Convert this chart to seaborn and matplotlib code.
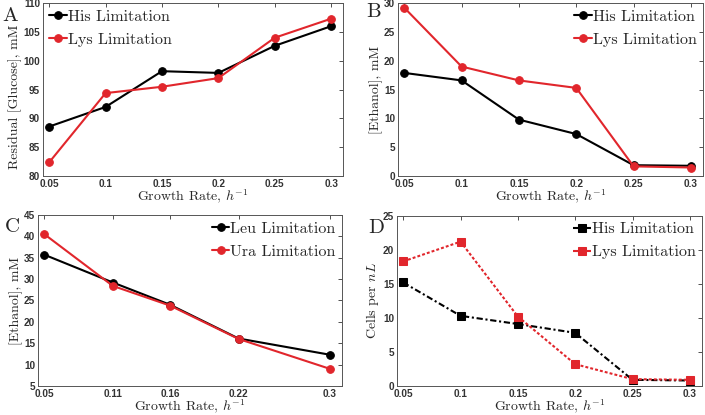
import matplotlib
matplotlib.use('Agg')
import numpy as np
import pandas as pd
import matplotlib.pyplot as plt
import seaborn as sns

# данные
rate = [0.05, 0.1, 0.15, 0.2, 0.25, 0.3]
rate_c = [0.05, 0.11, 0.16, 0.22, 0.3]

glucose_his = [88.6, 92.0, 98.2, 97.9, 102.6, 106.0]
glucose_lys = [82.4, 94.4, 95.5, 97.0, 104.0, 107.3]

ethanol_his = [17.9, 16.6, 9.8, 7.3, 1.9, 1.8]
ethanol_lys = [29.2, 19.0, 16.6, 15.3, 1.7, 1.5]

ethanol_leu = [35.7, 29.2, 24.0, 16.1, 12.3]
ethanol_ura = [40.5, 28.4, 23.8, 16.0, 9.0]

cells_his = [15.2, 10.3, 9.1, 7.8, 0.9, 0.8]
cells_lys = [18.3, 21.2, 10.2, 3.2, 1.0, 0.9]

sns.set_style('white')
plt.rcParams['mathtext.fontset'] = 'cm'
plt.rcParams['axes.unicode_minus'] = False

RED = '#e1262c'
BLACK = '#000000'
LBL = dict(family='cmr10', size=10)
TICK_FONT = dict(family='Liberation Sans', weight='bold', size=7.2)

fig = plt.figure(figsize=(7.05, 4.15), dpi=100)
axA = fig.add_axes([0.061, 0.5755, 0.4255, 0.417])
axB = fig.add_axes([0.5645, 0.5755, 0.4326, 0.417])
axC = fig.add_axes([0.054, 0.070, 0.431, 0.412])
axD = fig.add_axes([0.563, 0.070, 0.4326, 0.410])


def draw(ax, x, ys, names, colors, marker, styles, ms):
    for y, name, c, ls in zip(ys, names, colors, styles):
        df = pd.DataFrame({'x': x, 'y': y})
        sns.lineplot(data=df, x='x', y='y', ax=ax, color=c, marker=marker,
                     linewidth=1.5, markersize=ms, markeredgecolor=c,
                     label=name, dashes=False)
        ax.lines[-1].set_linestyle(ls)


def style(ax, xt, xtl, yt, ylim, ylabel, leg_loc):
    ax.set_xticks(xt)
    ax.set_xticklabels(xtl, fontdict=TICK_FONT)
    ax.set_yticks(yt)
    ax.set_yticklabels([str(v) for v in yt], fontdict=TICK_FONT)
    ax.set_ylim(ylim)
    ax.set_xlim(0.0445, 0.3105)
    ax.tick_params(direction='in', length=3, width=0.6, top=True, right=True,
                   pad=2, colors='#333333')
    for s in ax.spines.values():
        s.set_linewidth(0.7)
        s.set_color('#555555')
    ax.set_xlabel(r'Growth Rate, $h^{-1}$', **LBL, labelpad=-1)
    ax.set_ylabel(ylabel, **LBL, labelpad=1)
    leg = ax.legend(loc=leg_loc, frameon=False, prop={'family': 'cmr10', 'size': 11.5},
                    handlelength=1.1, handletextpad=0.05, borderaxespad=0.1,
                    borderpad=0.3, labelspacing=0.55)
    for h, ln in zip(leg.get_lines(), ax.lines):
        h.set_linestyle(ln.get_linestyle())


rate_lbl = ['0.05', '0.1', '0.15', '0.2', '0.25', '0.3']

draw(axA, rate, [glucose_his, glucose_lys], ['His Limitation', 'Lys Limitation'],
     [BLACK, RED], 'o', ['-', '-'], 5.5)
style(axA, rate, rate_lbl, list(range(80, 111, 5)), (80, 110),
      'Residual [Glucose], mM', 'upper left')
axA.yaxis.label.set_y(0.46)

draw(axB, rate, [ethanol_his, ethanol_lys], ['His Limitation', 'Lys Limitation'],
     [BLACK, RED], 'o', ['-', '-'], 5.5)
style(axB, rate, rate_lbl, list(range(0, 31, 5)), (0, 30),
      '[Ethanol], mM', 'upper right')

draw(axC, rate_c, [ethanol_leu, ethanol_ura], ['Leu Limitation', 'Ura Limitation'],
     [BLACK, RED], 'o', ['-', '-'], 5.5)
style(axC, rate_c, ['0.05', '0.11', '0.16', '0.22', '0.3'], list(range(5, 46, 5)),
      (5, 45), '[Ethanol], mM', 'upper right')

draw(axD, rate, [cells_his, cells_lys], ['His Limitation', 'Lys Limitation'],
     [BLACK, RED], 's', [(0, (3, 1.3, 1, 1.3)), (0, (1.4, 1.0))], 5.5)
style(axD, rate, rate_lbl, list(range(0, 26, 5)), (0, 25),
      r'Cells per $nL$', 'upper right')

for txt, x, y in [('A', 0.004, 0.949), ('B', 0.519, 0.959),
                  ('C', 0.007, 0.441), ('D', 0.523, 0.439)]:
    fig.text(x, y, txt, family='cmr10', size=15)

fig.savefig('out.png', dpi=100)
